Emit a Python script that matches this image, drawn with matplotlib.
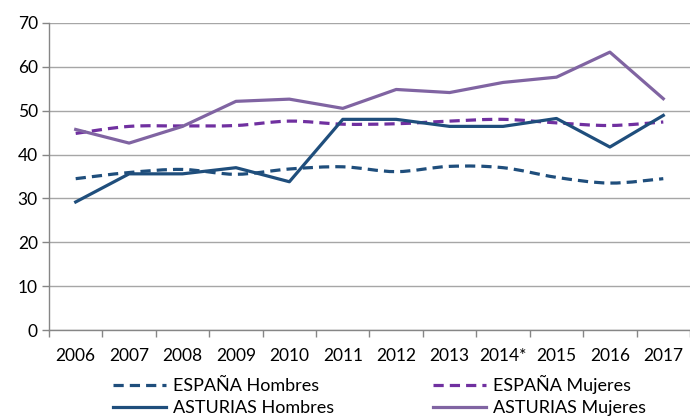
import numpy as np
import matplotlib.pyplot as plt
from matplotlib.path import Path
from matplotlib.patches import PathPatch
from matplotlib.lines import Line2D

plt.rcParams['font.family'] = ['Lato', 'DejaVu Sans']

# --- data ---
years = ['2006', '2007', '2008', '2009', '2010', '2011', '2012', '2013', '2014*', '2015', '2016', '2017']
espana_hombres = [34.5, 35.9, 36.6, 35.5, 36.7, 37.2, 36.1, 37.3, 37.0, 34.8, 33.5, 34.5]
espana_mujeres = [44.8, 46.4, 46.5, 46.6, 47.6, 46.9, 47.0, 47.6, 48.0, 47.2, 46.6, 47.4]
asturias_hombres = [29.2, 35.6, 35.6, 37.0, 33.8, 48.0, 48.0, 46.4, 46.4, 48.2, 41.7, 48.9]
asturias_mujeres = [45.7, 42.6, 46.4, 52.1, 52.6, 50.5, 54.8, 54.1, 56.4, 57.6, 63.3, 52.7]

c_blue = '#1F4E7C'
c_purple_dash = '#7030A0'
c_purple = '#8064A2'


def smooth_path(xs, ys):
    """Excel-style smoothed line as a cubic bezier path."""
    pts = np.column_stack([xs, ys]).astype(float)
    n = len(pts)
    verts = [pts[0]]
    codes = [Path.MOVETO]
    for i in range(n - 1):
        p0 = pts[i - 1] if i > 0 else pts[i]
        p1 = pts[i]
        p2 = pts[i + 1]
        p3 = pts[i + 2] if i + 2 < n else pts[i + 1]
        verts += [p1 + (p2 - p0) / 6, p2 - (p3 - p1) / 6, p2]
        codes += [Path.CURVE4] * 3
    return Path(verts, codes)


fig = plt.figure(figsize=(6.9, 4.17), dpi=100)
ax = fig.add_axes([0.071, 0.208, 0.929, 0.7376])

x = np.arange(len(years))
dash = (0, (3.2, 1.9))

for vals, col in [(espana_hombres, c_blue), (espana_mujeres, c_purple_dash)]:
    ax.add_patch(PathPatch(smooth_path(x, vals), fill=False, edgecolor=col,
                           lw=2.3, linestyle=dash, capstyle='butt', zorder=3))

ax.plot(x, asturias_hombres, color=c_blue, lw=2.3, zorder=4)
ax.plot(x, asturias_mujeres, color=c_purple, lw=2.3, zorder=4)

ax.set_ylim(0, 70)
ax.set_xlim(-0.5, 11.37)
ax.set_yticks(range(0, 71, 10))
ax.set_xticks(x)
ax.set_xticklabels(years)
ax.set_xticks(np.arange(-0.5, 12, 1), minor=True)
ax.tick_params(axis='x', which='major', length=0, pad=13, labelsize=12.5, colors='#000000')
ax.tick_params(axis='x', which='minor', length=5, color='#868686', width=1)
ax.tick_params(axis='y', length=5, color='#868686', width=1, labelsize=12.5, pad=3)

ax.grid(axis='y', color='#A6A6A6', lw=1)
ax.set_axisbelow(True)
for s in ['top', 'right']:
    ax.spines[s].set_visible(False)
for s in ['left', 'bottom']:
    ax.spines[s].set_color('#868686')
    ax.spines[s].set_linewidth(1)

handles = [
    Line2D([], [], color=c_blue, lw=2.3, linestyle=dash),
    Line2D([], [], color=c_blue, lw=2.3),
    Line2D([], [], color=c_purple_dash, lw=2.3, linestyle=dash),
    Line2D([], [], color=c_purple, lw=2.3),
]
labels = ['ESPAÑA Hombres', 'ASTURIAS Hombres', 'ESPAÑA Mujeres', 'ASTURIAS Mujeres']
fig.legend(handles, labels, ncol=2, loc='upper left', bbox_to_anchor=(0.164, 0.1),
           frameon=False, fontsize=13, handlelength=2.9, handletextpad=0.4,
           columnspacing=5.5, labelspacing=0.33, borderpad=0, borderaxespad=0)

fig.savefig('out.png', dpi=100)
